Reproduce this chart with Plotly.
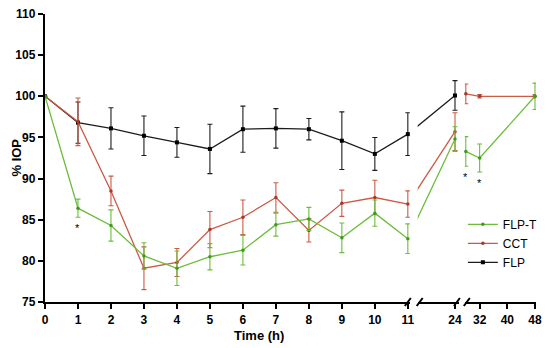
import plotly.graph_objects as go

# ---------------- data ----------------
time_h = [0, 1, 2, 3, 4, 5, 6, 7, 8, 9, 10, 11, 24, 28, 32, 48]

flpt_mean = [100, 86.4, 84.3, 80.6, 79.1, 80.5, 81.3, 84.4, 85.1, 82.8, 85.8, 82.7, 94.8, 93.3, 92.5, 100.0]
flpt_err = [0, 1.1, 1.9, 1.6, 2.1, 1.6, 1.8, 1.4, 1.4, 1.8, 1.6, 1.8, 1.5, 1.8, 1.7, 1.6]

cct_mean = [100, 96.9, 88.5, 79.1, 79.8, 83.8, 85.3, 87.7, 83.7, 87.0, 87.7, 86.9, 95.7, 100.3, 100.0, 100.0]
cct_err = [0, 2.9, 1.8, 2.6, 1.7, 2.2, 2.1, 1.8, 1.4, 1.6, 2.1, 1.6, 2.3, 1.2, 0.2, 0.2]

flp_mean = [100, 96.8, 96.1, 95.2, 94.4, 93.6, 96.0, 96.1, 96.0, 94.6, 93.0, 95.4, 100.1, None, None, None]
flp_err = [0, 2.5, 2.5, 2.4, 1.8, 3.0, 2.8, 2.4, 1.3, 3.5, 2.0, 2.6, 1.8, None, None, None]

star_times = [1, 28, 32]          # significant points of FLP-T

seg1_ticks = [0, 1, 2, 3, 4, 5, 6, 7, 8, 9, 10, 11]
seg2_ticks = [24]
seg3_ticks = [32, 40, 48]

# ---------------- styles ----------------
FONT = "Arial, Liberation Sans, sans-serif"
series = [
    ("FLP", flp_mean, flp_err, "#1c1c1c", "#000000", "square", 4, 3),
    ("CCT", cct_mean, cct_err, "#cc5a45", "#a33a2a", "circle", 3.5, 2),
    ("FLP-T", flpt_mean, flpt_err, "#6cbd3a", "#3f9a1e", "circle", 3.5, 1),
]

# segments of the broken x axis: (axis id, time filter)
segments = [
    ("x", lambda t: t <= 11),
    ("x2", lambda t: t in (11, 24)),
    ("x3", lambda t: t >= 28),
]

fig = go.Figure()
for name, mean, err, lc, mc, sym, msz, rank in series:
    first = True
    for ax, keep in segments:
        xs, ys, es = [], [], []
        for t, m, e in zip(time_h, mean, err):
            if m is None or not keep(t):
                continue
            xs.append(t)
            ys.append(m)
            es.append(e)
        if not xs:
            continue
        fig.add_trace(go.Scatter(
            x=xs, y=ys, xaxis=ax, yaxis="y",
            mode="lines+markers", name=name,
            line=dict(color=lc, width=1.3),
            marker=dict(color=mc, size=msz, symbol=sym),
            error_y=dict(type="data", array=es, visible=True,
                         color=lc, thickness=1.1, width=2.5),
            showlegend=first, legendgroup=name, legendrank=rank,
            cliponaxis=(ax == "x2"),
        ))
        first = False

# asterisks under FLP-T points
for t in star_times:
    i = time_h.index(t)
    ax = "x" if t <= 11 else "x3"
    fig.add_annotation(x=t, y=flpt_mean[i] - flpt_err[i], xref=ax, yref="y",
                       text="*", showarrow=False, yanchor="top", yshift=-3,
                       font=dict(family=FONT, size=11, color="black"))

axis_common = dict(showline=True, linewidth=2.4, linecolor="black",
                   ticks="outside", ticklen=5, tickwidth=2, tickcolor="black",
                   showgrid=False, zeroline=False,
                   tickfont=dict(family=FONT, size=12, color="black", weight="bold"))

fig.update_layout(
    width=550, height=348,
    margin=dict(l=45, r=7, t=7, b=46),
    paper_bgcolor="white", plot_bgcolor="white",
    xaxis=dict(domain=[0, 0.743], range=[0, 11.06], tickvals=seg1_ticks,
               anchor="y", **axis_common),
    xaxis2=dict(domain=[0.759, 0.843], range=[13.71, 25.08], tickvals=seg2_ticks,
                anchor="y", **axis_common),
    xaxis3=dict(domain=[0.855, 1.0], range=[27.71, 48.29], tickvals=seg3_ticks,
                anchor="y", **axis_common),
    yaxis=dict(range=[75, 110], tickvals=[75, 80, 85, 90, 95, 100, 105, 110],
               anchor="x", **axis_common),
    legend=dict(x=1.014, y=0.32, xanchor="right", yanchor="top",
                bgcolor="rgba(0,0,0,0)", itemwidth=30,
                font=dict(family=FONT, size=12, color="black"),
                tracegroupgap=0),
    showlegend=True,
)

# axis titles
fig.add_annotation(x=0.436, y=-0.115, xref="paper", yref="paper", text="<b>Time (h)</b>",
                   showarrow=False, xanchor="center", yanchor="middle",
                   font=dict(family=FONT, size=13, color="black"))
fig.add_annotation(x=-0.06, y=0.5, xref="paper", yref="paper", text="<b>% IOP</b>",
                   showarrow=False, textangle=-90, xanchor="center", yanchor="middle",
                   font=dict(family=FONT, size=13, color="black"))

# break marks "//" at segment ends
for axref, side in [("x", 1), ("x2", 0), ("x2", 1), ("x3", 0)]:
    off = -2 if side == 1 else 2
    fig.add_shape(type="line", xref=f"{axref} domain", yref="paper",
                  xsizemode="pixel", xanchor=side, x0=off - 3, x1=off + 3,
                  ysizemode="pixel", yanchor=0, y0=-4, y1=4,
                  line=dict(color="black", width=2))

fig.write_html("out.html", config={"displayModeBar": False},
               post_script="document.body.style.margin='0';document.body.style.overflow='hidden';")
